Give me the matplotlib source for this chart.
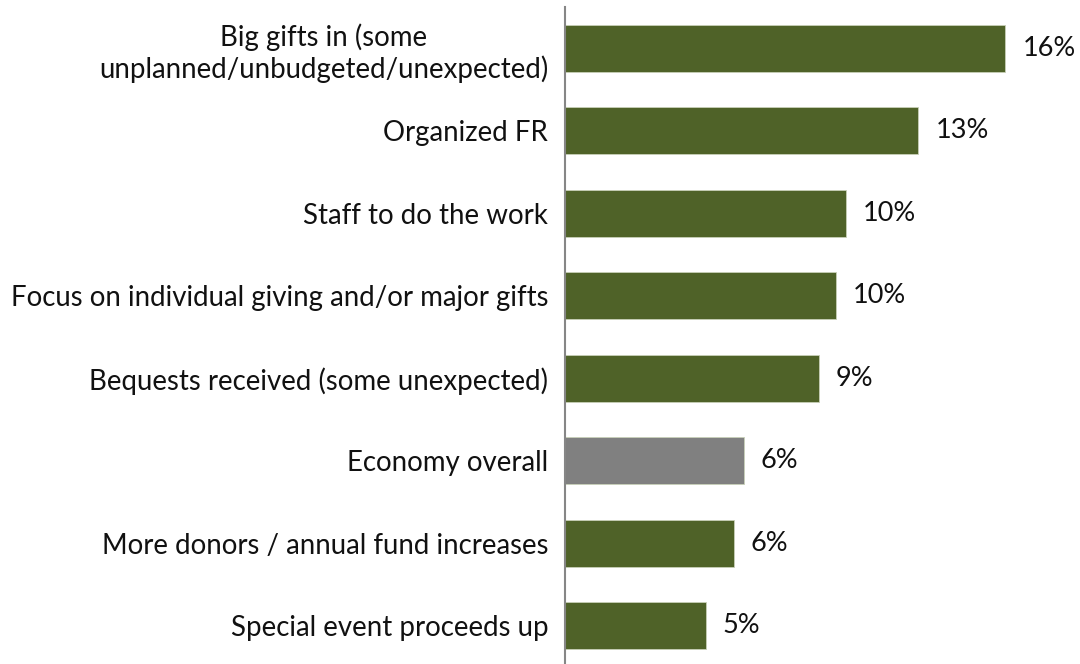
import matplotlib
matplotlib.use("Agg")
import matplotlib.pyplot as plt

categories = [
    "Big gifts in (some\nunplanned/unbudgeted/unexpected)",
    "Organized FR",
    "Staff to do the work",
    "Focus on individual giving and/or major gifts",
    "Bequests received (some unexpected)",
    "Economy overall",
    "More donors / annual fund increases",
    "Special event proceeds up",
]
values = [16.0, 12.84, 10.2, 9.83, 9.22, 6.49, 6.13, 5.12]
labels = ["16%", "13%", "10%", "10%", "9%", "6%", "6%", "5%"]
colors = ["#4F6228", "#4F6228", "#4F6228", "#4F6228", "#4F6228", "#808080", "#4F6228", "#4F6228"]

plt.rcParams['font.family'] = ['Lato', 'DejaVu Sans']

fig = plt.figure(figsize=(10.8, 6.64), dpi=100)
ax = fig.add_axes([0.523, -0.0045, 0.459, 0.994])

y = list(range(len(categories)))
ax.barh(y, values, height=0.565, color=colors, edgecolor="#c8d0b8", linewidth=0.6)
ax.set_ylim(len(categories) - 0.5, -0.5)
ax.set_xlim(0, 18)

for yi, v, lab in zip(y, values, labels):
    ax.text(v + 0.62, yi, lab, va="center", ha="left", fontsize=19.5, color="#111111")

ax.set_yticks(y)
ax.set_yticklabels(categories, fontsize=19.9, ha="right", linespacing=1.2, color="#111111")
for t in ax.get_yticklabels():
    t.set_multialignment("center")
ax.tick_params(axis="y", length=0, pad=12)
ax.set_xticks([])
for s in ["top", "right", "bottom"]:
    ax.spines[s].set_visible(False)
ax.spines["left"].set_color("#868686")
ax.spines["left"].set_linewidth(1.5)

fig.savefig("out.png", dpi=100)
